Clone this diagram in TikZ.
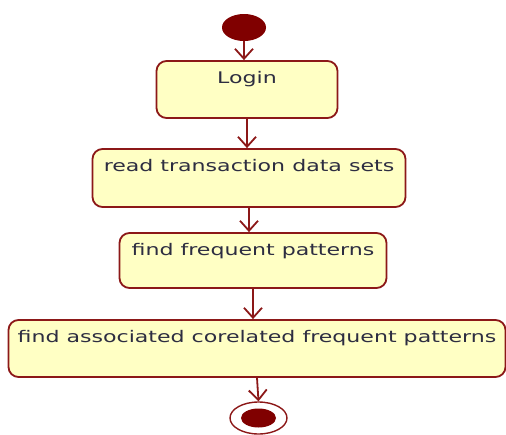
\documentclass[tikz,border=0pt]{standalone}
\usepackage{fontspec}
\setmainfont[FakeStretch=1.38]{DejaVu Sans}
\usetikzlibrary{arrows.meta,shapes.geometric}
\definecolor{actborder}{RGB}{140,24,24}
\definecolor{actfill}{RGB}{255,255,196}
\definecolor{acttext}{RGB}{45,45,65}
\definecolor{dotfill}{RGB}{128,0,0}
\tikzset{
  activity/.style={draw=actborder, fill=actfill, line width=1.8pt, rounded corners=10pt,
    text=acttext, font=\fontsize{16}{18}\selectfont, inner xsep=0pt, inner ysep=6pt,
    text height=16pt},
  flow/.style={draw=actborder, line width=1.8pt, -{Straight Barb[length=10pt,width=18pt]}}
}
\begin{document}
\begin{tikzpicture}[x=1pt,y=-1pt]
  \useasboundingbox (0,0) rectangle (506,434);
  % start and end
  \node (start) [ellipse, fill=dotfill, minimum width=44pt, minimum height=27pt, inner sep=0pt] at (244,27.5) {};
  \node (stop) [ellipse, draw=actborder, line width=1.4pt, minimum width=57pt, minimum height=32pt, inner sep=0pt] at (258.5,418) {};
  \fill [dotfill] (stop) ellipse (17.5 and 9.5);
  % activities
  \node (login) [activity, minimum width=181pt, minimum height=57pt, text depth=29pt] at (247,89.5) {Login};
  \node (read) [activity, minimum width=313pt, minimum height=58pt, text depth=30pt] at (249,178) {read transaction data sets};
  \node (freq) [activity, minimum width=267pt, minimum height=55pt, text depth=27pt] at (253,260.5) {find frequent patterns};
  \node (assoc) [activity, minimum width=497pt, minimum height=57pt, text depth=29pt] at (257,348.5) {find associated corelated frequent patterns};
  % transitions
  \draw [flow] (start.south) -- (start.south |- login.north);
  \draw [flow] (login.south) -- (login.south |- read.north);
  \draw [flow] (read.south) -- (read.south |- freq.north);
  \draw [flow] (freq.south) -- (freq.south |- assoc.north);
  \draw [flow] (assoc.south) -- (stop.north);
\end{tikzpicture}
\end{document}
